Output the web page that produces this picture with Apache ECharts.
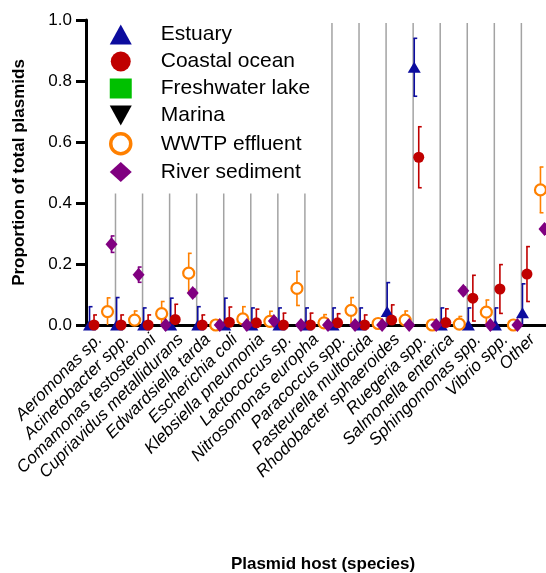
<!DOCTYPE html>
<html>
<head>
<meta charset="utf-8">
<title>Plasmid host</title>
<script src="https://cdn.jsdelivr.net/npm/echarts@6/dist/echarts.min.js"></script>
<style>
  html, body { margin: 0; padding: 0; background: #fff; }
  #chartDom { width: 546px; height: 573px; }
</style>
</head>
<body>
<div id="chartDom"></div>
<script>
const hosts = [
  'Aeromonas sp.', 'Acinetobacter spp.', 'Comamonas testosteroni', 'Cupriavidus metallidurans',
  'Edwardsiella tarda', 'Escherichia coli', 'Klebsiella pneumonia', 'Lactococcus sp.',
  'Nitrosomonas europha', 'Paracoccus spp.', 'Pasteurella multocida', 'Rhodobacter sphaeroides',
  'Ruegeria spp.', 'Salmonella enterica', 'Sphingomonas spp.', 'Vibrio spp.', 'Other'
];
const yTicks = [0, 0.2, 0.4, 0.6, 0.8, 1.0];

const estuaryMean = [0, 0, 0, 0, 0, 0, 0, 0, 0, 0, 0, 0.044, 0.845, 0, 0, 0, 0.04];
const estuaryErr = [0.06, 0.09, 0.056, 0.088, 0.06, 0.088, 0.056, 0.056, 0.056, 0.056, 0.056, 0.095, 0.095, 0.056, 0.056, 0.056, 0.095];
const coastalMean = [0, 0, 0, 0.018, 0, 0.009, 0.007, 0, 0, 0.007, 0, 0.016, 0.55, 0.008, 0.088, 0.118, 0.167];
const coastalErr = [0.033, 0.033, 0.033, 0.05, 0.033, 0.05, 0.045, 0.039, 0.039, 0.03, 0.033, 0.05, 0.1, 0.045, 0.075, 0.08, 0.09];
const lakeMean = hosts.map(() => null);
const lakeErr = hosts.map(() => null);
const marinaMean = hosts.map(() => null);
const marinaErr = hosts.map(() => null);
const wwtpMean = [0.044, 0.016, 0.037, 0.17, 0, 0.02, 0.012, 0.12, 0.007, 0.048, 0.005, 0.016, 0, 0.003, 0.042, 0, 0.443];
const wwtpErr = [0.045, 0.03, 0.04, 0.065, 0, 0.04, 0.033, 0.056, 0.027, 0.042, 0.015, 0.03, 0, 0.025, 0.04, 0, 0.075];
const riverMean = [0.265, 0.165, 0, 0.105, 0, 0, 0.013, 0, 0, 0, 0, 0, 0, 0.112, 0, 0, 0.315];
const riverErr = [0.027, 0.025, 0, 0.012, 0, 0, 0.01, 0, 0, 0, 0, 0, 0, 0.012, 0, 0, 0.015];

const FONT = 'Liberation Sans, Arial, sans-serif';
const sepTop = 0.99; // grey divider lines stop just under 1.0

// one entry per habitat, dx = pixel dodge inside a category
const groups = [
  { name: 'Estuary', mean: estuaryMean, err: estuaryErr, color: '#0c0c9e', symbol: 'triangle', size: [13, 11], dx: -10 },
  { name: 'Coastal ocean', mean: coastalMean, err: coastalErr, color: '#c00000', symbol: 'circle', size: 11, dx: -5.5 },
  { name: 'Freshwater lake', mean: lakeMean, err: lakeErr, color: '#00c000', symbol: 'rect', size: 10, dx: -1 },
  { name: 'Marina', mean: marinaMean, err: marinaErr, color: '#000000', symbol: 'path://M0,0 L10,0 L5,9 Z', size: [13, 11], dx: 3.5 },
  { name: 'WWTP effluent', mean: wwtpMean, err: wwtpErr, color: '#ff8000', symbol: 'circle', size: 11, dx: 8, hollow: true },
  { name: 'River sediment', mean: riverMean, err: riverErr, color: '#800080', symbol: 'diamond', size: [12, 14], dx: 12 }
];

const errorBars = (g) => ({
  type: 'custom',
  encode: { x: 0, y: 1 },
  data: g.mean.map((m, i) => [i, m, g.err[i]]).filter(d => d[1] != null),
  renderItem: (params, api) => {
    const i = api.value(0), m = api.value(1), e = api.value(2);
    if (!e) return;
    const lo = Math.max(0, m - e);
    const top = api.coord([i, m + e]);
    const bot = api.coord([i, lo]);
    const x = top[0] + g.dx;
    const style = { stroke: g.color, lineWidth: 1.6 };
    const kids = [
      { type: 'line', shape: { x1: x, y1: top[1], x2: x, y2: bot[1] }, style },
      { type: 'line', shape: { x1: x - 0.8, y1: top[1], x2: x + 3, y2: top[1] }, style }
    ];
    if (lo > 0) kids.push({ type: 'line', shape: { x1: x - 0.8, y1: bot[1], x2: x + 3, y2: bot[1] }, style });
    return { type: 'group', children: kids };
  }
});

const points = (g) => ({
  type: 'scatter',
  name: g.name,
  data: g.mean,
  symbol: g.symbol,
  symbolSize: g.size,
  symbolOffset: [g.dx, 0],
  itemStyle: g.hollow
    ? { color: '#fff', borderColor: g.color, borderWidth: 2.2, opacity: 1 }
    : { color: g.color, opacity: 1 }
});

const dividers = {
  type: 'custom',
  z: 1,
  encode: { x: 0, y: 1 },
  data: hosts.slice(0, -1).map((h, i) => [i, sepTop]),
  renderItem: (params, api) => {
    const top = api.coord([api.value(0), api.value(1)]);
    const bot = api.coord([api.value(0), 0]);
    const x = top[0] + api.size([1, 0])[0] * 0.59;
    return {
      type: 'line',
      shape: { x1: x, y1: top[1], x2: x, y2: bot[1] },
      style: { stroke: '#a3a3a3', lineWidth: 1.5 }
    };
  }
};

const series = [dividers];
groups.forEach(g => { series.push(errorBars(g), points(g)); });

const option = {
  animation: false,
  backgroundColor: '#fff',
  grid: { left: 86, right: 0, top: 20, bottom: 248, outerBoundsMode: 'none' },
  legend: {
    orient: 'vertical',
    left: 100,
    top: 19,
    padding: [5, 6, 11, 9],
    backgroundColor: '#fff',
    itemWidth: 22,
    itemHeight: 20,
    itemGap: 6,
    selectedMode: false,
    data: groups.map(g => g.hollow
      ? { name: g.name, itemStyle: { borderWidth: 3.5 } }
      : { name: g.name }),
    formatter: name => '{t|' + name + '}',
    textStyle: {
      rich: { t: { fontFamily: FONT, fontSize: 21, lineHeight: 22, color: '#000', padding: [0, 0, 0, 24] } }
    }
  },
  xAxis: {
    type: 'category',
    data: hosts,
    name: 'Plasmid host (species)',
    nameLocation: 'middle',
    nameGap: 231,
    nameTextStyle: { fontFamily: FONT, fontSize: 17, fontWeight: 'bold', color: '#000', padding: [0, 0, 0, 14] },
    axisLine: { lineStyle: { color: '#000', width: 3 } },
    axisTick: { alignWithLabel: true, length: 8, lineStyle: { color: '#000', width: 3 } },
    axisLabel: {
      interval: 0,
      rotate: 45,
      margin: 12,
      fontFamily: FONT,
      fontSize: 17,
      fontStyle: 'italic',
      color: '#000'
    },
    splitLine: { show: false }
  },
  yAxis: {
    type: 'value',
    min: yTicks[0],
    max: yTicks[yTicks.length - 1],
    interval: yTicks[1] - yTicks[0],
    name: 'Proportion of total plasmids',
    nameLocation: 'middle',
    nameGap: 58,
    nameTextStyle: { fontFamily: FONT, fontSize: 17, fontWeight: 'bold', color: '#000' },
    axisLine: { show: true, lineStyle: { color: '#000', width: 3 } },
    axisTick: { show: true, length: 10, lineStyle: { color: '#000', width: 3 } },
    axisLabel: {
      margin: 14,
      fontFamily: FONT,
      fontSize: 17,
      color: '#000',
      formatter: v => v.toFixed(1)
    },
    splitLine: { show: false }
  },
  series
};

const chart = echarts.init(document.getElementById('chartDom'));
chart.setOption(option);
</script>
</body>
</html>
